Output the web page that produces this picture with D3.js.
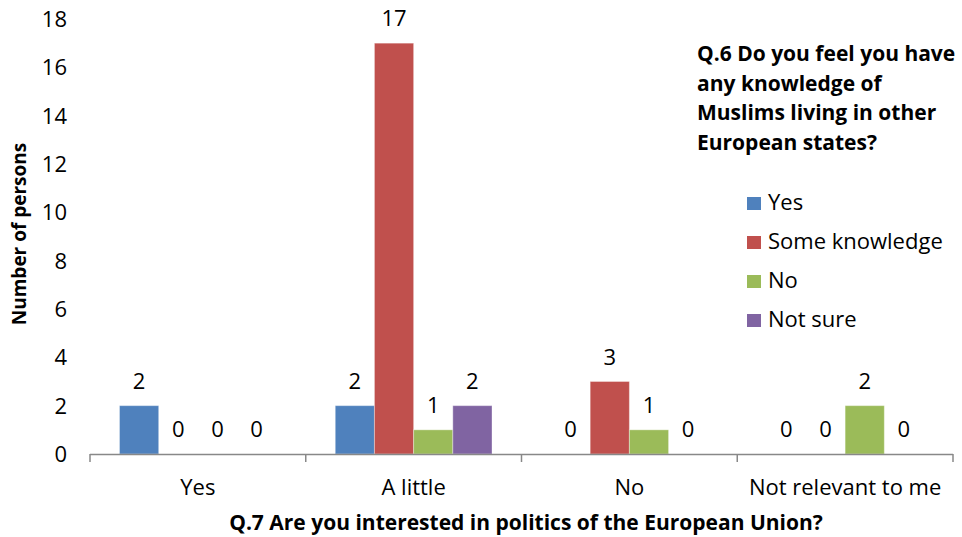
<!DOCTYPE html>
<html><head><meta charset="utf-8">
<script src="https://cdn.jsdelivr.net/npm/d3@7"></script>
<style>body{margin:0;background:#fff}svg{display:block;font-family:"Open Sans",sans-serif}</style>
</head><body><svg id="c" width="962" height="537"></svg>
<script>
const categories = ["Yes", "A little", "No", "Not relevant to me"];
const seriesNames = ["Yes", "Some knowledge", "No", "Not sure"];
const seriesColors = ["#4F81BD", "#C0504D", "#9BBB59", "#8064A2"];
const valsYes = [2, 2, 0, 0];
const valsSome = [0, 17, 3, 0];
const valsNo = [0, 1, 1, 2];
const valsNotSure = [0, 2, 0, 0];
const yTicks = [0, 2, 4, 6, 8, 10, 12, 14, 16, 18];
const legendTitle = ["Q.6 Do you feel you have", "any knowledge of", "Muslims living in other", "European states?"];
const xTitle = "Q.7 Are you interested in politics of the European Union?";
const yTitle = "Number of persons";

const FS = 22, FB = 21;
const series = [valsYes, valsSome, valsNo, valsNotSure];
const svg = d3.select("#c");
const x = d3.scaleBand().domain(categories).range([90, 953]).paddingInner(0).paddingOuter(0);
const inner = d3.scaleBand().domain(d3.range(4)).range([29.5, x.bandwidth() - 29.5]);
const y = d3.scaleLinear().domain([0, 18]).range([454, 19]);

svg.append("g").selectAll("text").data(yTicks).join("text")
  .attr("x", 67).attr("y", d => y(d)).attr("dy", "0.36em")
  .attr("text-anchor", "end").attr("font-size", FS).attr("fill", "#000").text(d => d);

const data = [];
categories.forEach((c, i) => series.forEach((s, j) => data.push({c, j, v: s[i]})));
svg.append("g").selectAll("rect").data(data.filter(d => d.v > 0)).join("rect")
  .attr("x", d => x(d.c) + inner(d.j)).attr("width", inner.bandwidth())
  .attr("y", d => y(d.v)).attr("height", d => y(0) - y(d.v))
  .attr("fill", d => seriesColors[d.j]).attr("stroke", "rgba(255,255,255,0.35)").attr("stroke-width", 1);

svg.append("g").selectAll("text").data(data).join("text")
  .attr("x", d => x(d.c) + inner(d.j) + inner.bandwidth() / 2)
  .attr("y", d => y(d.v) - 17)
  .attr("text-anchor", "middle").attr("font-size", FS).attr("fill", "#000").text(d => d.v);

const ax = svg.append("g");
ax.append("line").attr("x1", 90).attr("x2", 953).attr("y1", 454.5).attr("y2", 454.5)
  .attr("stroke", "#888").attr("stroke-width", 1.5);
const bounds = categories.map(c => x(c)).concat([x.range()[1]]);
ax.selectAll("line.t").data(bounds).join("line").attr("class", "t")
  .attr("x1", d => d).attr("x2", d => d).attr("y1", 454).attr("y2", 462)
  .attr("stroke", "#888").attr("stroke-width", 1.5);
ax.selectAll("text").data(categories).join("text")
  .attr("x", d => x(d) + x.bandwidth() / 2).attr("y", 495)
  .attr("text-anchor", "middle").attr("font-size", FS).attr("fill", "#000").text(d => d);

svg.append("text").attr("x", 526).attr("y", 530).attr("text-anchor", "middle")
  .attr("font-size", FB).attr("font-weight", "bold").text(xTitle);
svg.append("text").attr("transform", "translate(26,234) rotate(-90)").attr("text-anchor", "middle")
  .attr("font-size", 19).attr("font-weight", "bold").text(yTitle);

const lg = svg.append("g");
lg.selectAll("text.t").data(legendTitle).join("text").attr("class", "t")
  .attr("x", 697).attr("y", (d, i) => 61 + i * 29.5)
  .attr("font-size", FB).attr("font-weight", "bold").text(d => d);
const items = lg.selectAll("g.i").data(seriesNames).join("g").attr("class", "i")
  .attr("transform", (d, i) => `translate(747,${197 + i * 39})`);
items.append("rect").attr("width", 14).attr("height", 13).attr("fill", (d, i) => seriesColors[i]);
items.append("text").attr("x", 21).attr("y", 13).attr("font-size", FS).text(d => d);
</script></body></html>
